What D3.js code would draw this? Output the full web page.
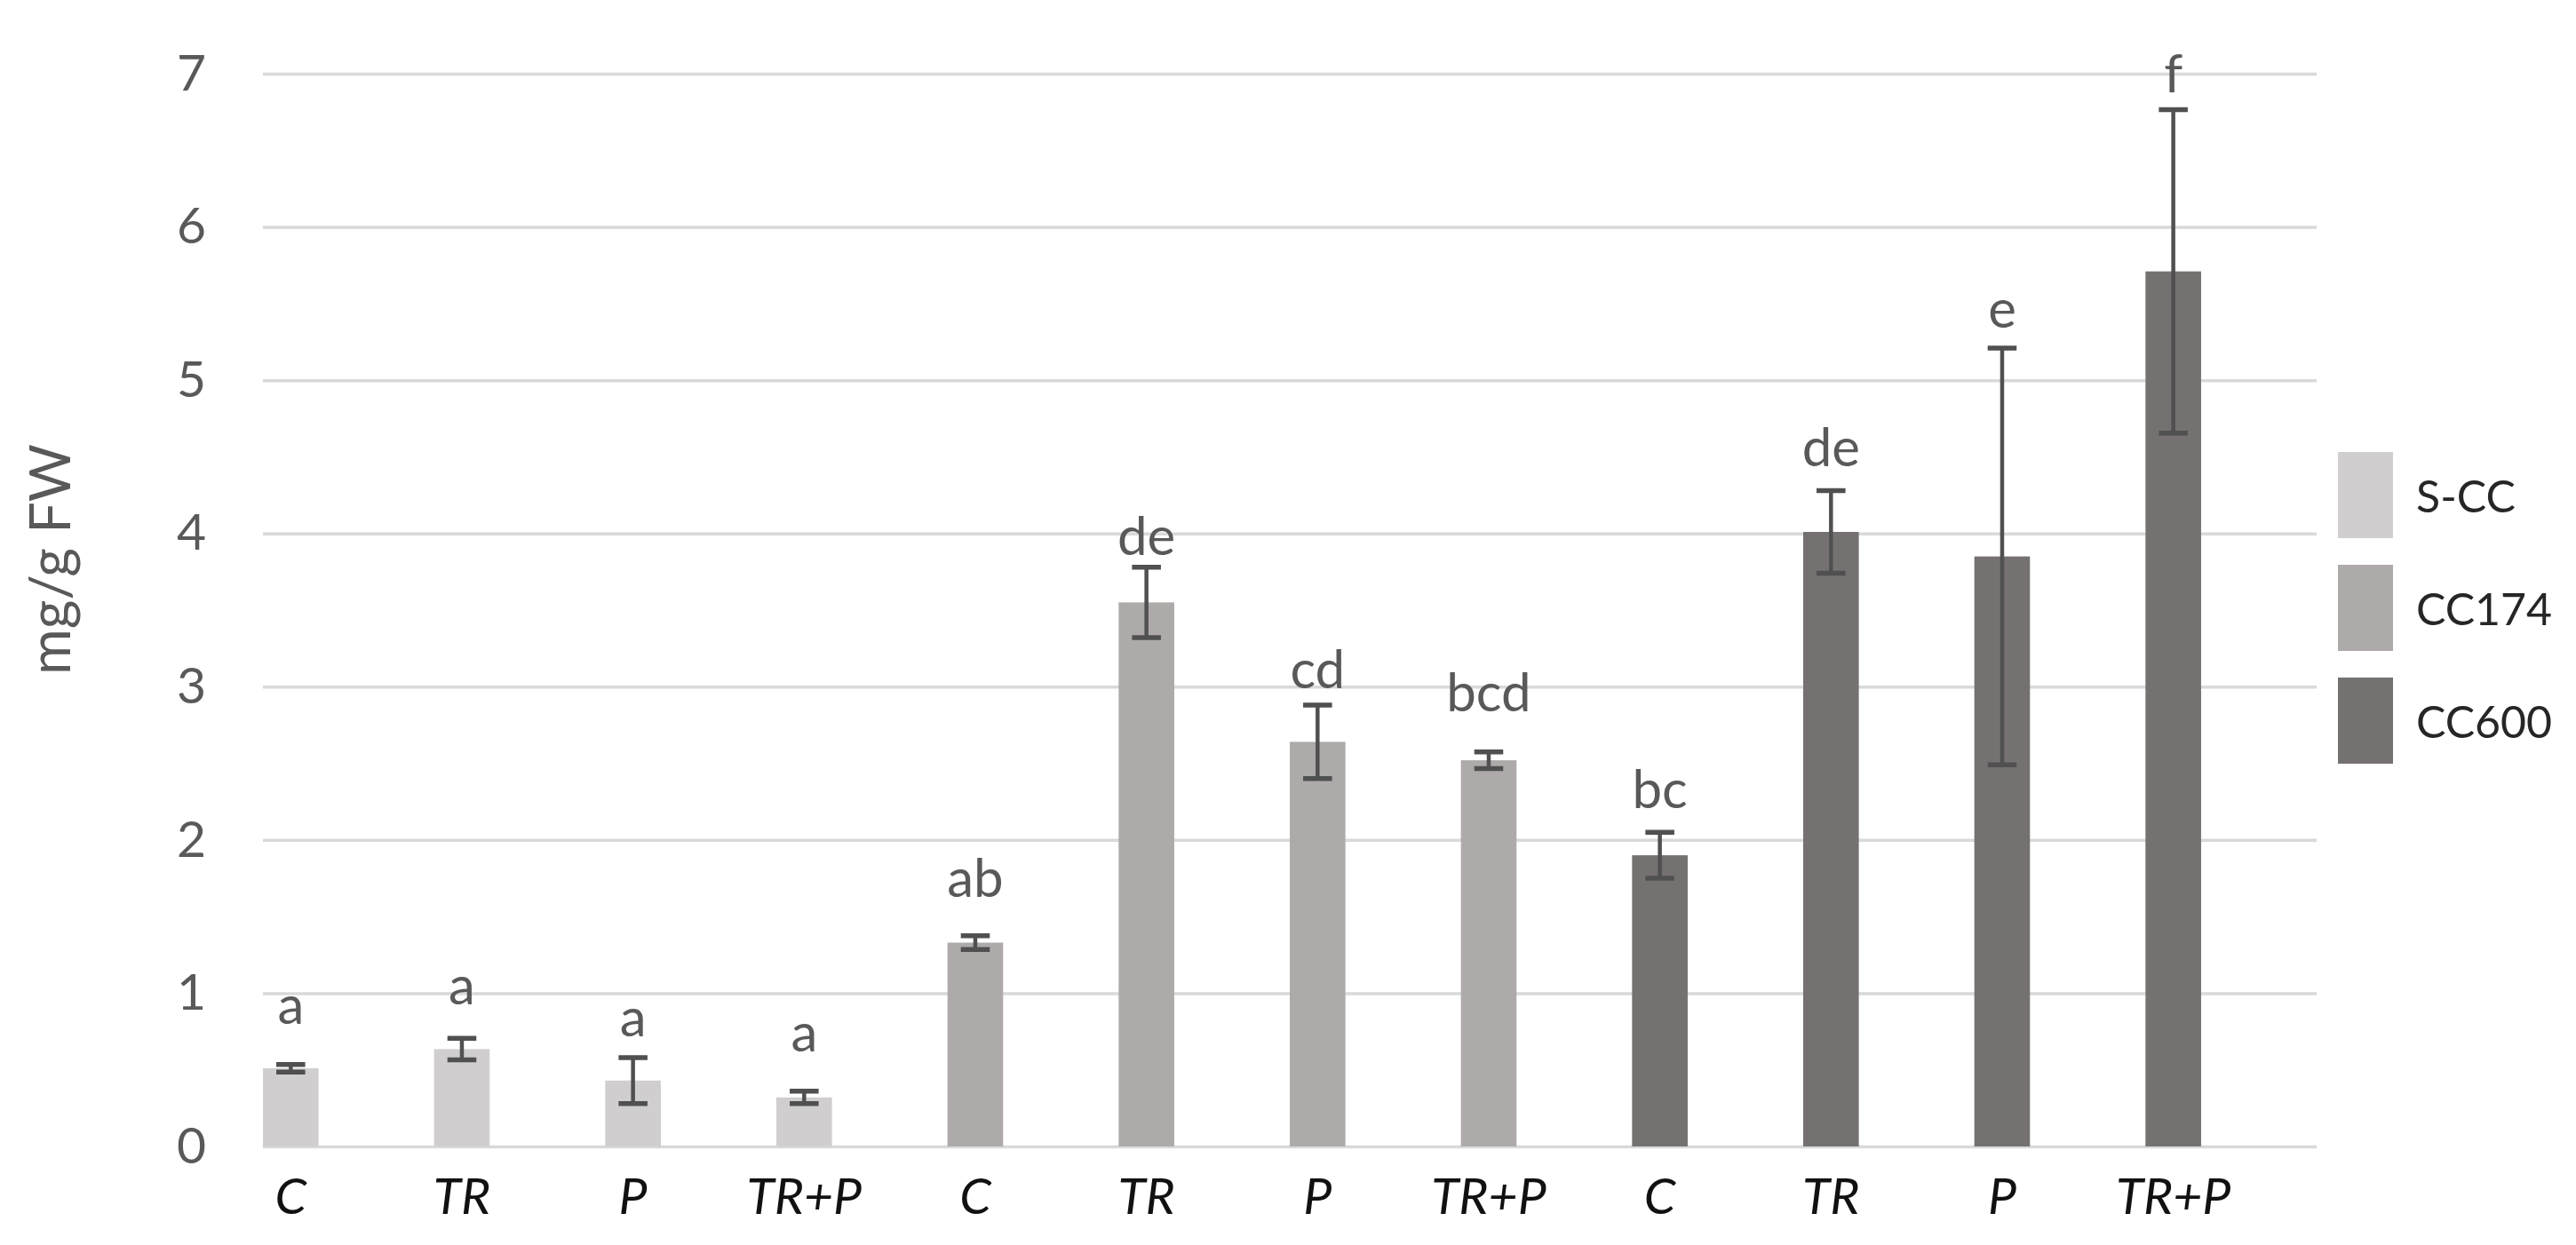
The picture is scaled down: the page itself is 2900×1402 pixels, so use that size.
<!DOCTYPE html>
<html>
<head>
<meta charset="utf-8">
<script src="https://cdn.jsdelivr.net/npm/d3@7"></script>
<style>
  html, body { margin: 0; padding: 0; background: #ffffff; }
  svg { display: block; }
  text { font-family: Lato, "Open Sans", "Noto Sans", sans-serif; }
</style>
</head>
<body>
<svg id="chart" width="2900" height="1402"></svg>
<script>
// ---- data ----
const categories = ["C", "TR", "P", "TR+P", "C", "TR", "P", "TR+P", "C", "TR", "P", "TR+P"];
const groups = ["S-CC", "S-CC", "S-CC", "S-CC", "CC174", "CC174", "CC174", "CC174", "CC600", "CC600", "CC600", "CC600"];
const values = [0.51, 0.635, 0.43, 0.32, 1.33, 3.55, 2.64, 2.52, 1.90, 4.01, 3.85, 5.71];
const errors = [0.025, 0.07, 0.15, 0.04, 0.045, 0.23, 0.24, 0.055, 0.15, 0.27, 1.36, 1.055];
const letters = ["a", "a", "a", "a", "ab", "de", "cd", "bcd", "bc", "de", "e", "f"];
const letterAt = [0.80, 0.93, 0.72, 0.62, 1.63, 3.86, 2.99, 2.84, 2.21, 4.44, 5.34, 6.88];
const seriesNames = ["S-CC", "CC174", "CC600"];
const seriesColors = ["#d0cece", "#aeaaaa", "#757171"];
const yTicks = [0, 1, 2, 3, 4, 5, 6, 7];
const yTitle = "mg/g FW";

(function () {
// ---- layout ----
const svg = d3.select("#chart");
const plotL = 296, plotR = 2608, plotT = 83, plotB = 1291;

const x = d3.scaleBand().domain(d3.range(categories.length)).range([plotL, plotR]).paddingInner(0).paddingOuter(0);
const y = d3.scaleLinear().domain([0, 7]).range([plotB, plotT]);
const color = d3.scaleOrdinal().domain(seriesNames).range(seriesColors);
const barW = x.bandwidth() * 0.325;

// gridlines + tick labels
const yAxis = d3.axisLeft(y).tickValues(yTicks).tickFormat(d3.format("d"))
  .tickSize(-(plotR - plotL)).tickPadding(64);
const gy = svg.append("g").attr("transform", `translate(${plotL},0)`).call(yAxis);
gy.select(".domain").remove();
gy.selectAll(".tick line").attr("stroke", "#d9d9d9").attr("stroke-width", 3.5);
gy.selectAll(".tick text").attr("fill", "#595959").attr("font-size", 57)
  .style("font-family", "Lato, 'Open Sans', sans-serif");

// bars
const idx = d3.range(values.length);
svg.append("g").selectAll("rect").data(idx).join("rect")
  .attr("x", i => x(i))
  .attr("y", i => y(values[i]))
  .attr("width", barW)
  .attr("height", i => y(0) - y(values[i]))
  .attr("fill", i => color(groups[i]));

// error bars
const eg = svg.append("g").attr("stroke", "#505050");
const capW = barW * 0.52;
idx.forEach(i => {
  const cx = x(i) + barW / 2;
  const hi = y(values[i] + errors[i]), lo = y(values[i] - errors[i]);
  eg.append("line").attr("x1", cx).attr("x2", cx).attr("y1", hi).attr("y2", lo).attr("stroke-width", 4.5);
  eg.append("line").attr("x1", cx - capW / 2).attr("x2", cx + capW / 2).attr("y1", hi).attr("y2", hi).attr("stroke-width", 5.5);
  eg.append("line").attr("x1", cx - capW / 2).attr("x2", cx + capW / 2).attr("y1", lo).attr("y2", lo).attr("stroke-width", 5.5);
});

// significance letters
svg.append("g").selectAll("text").data(idx).join("text")
  .attr("x", i => x(i) + barW / 2)
  .attr("y", i => y(letterAt[i]))
  .attr("text-anchor", "middle")
  .attr("fill", "#595959")
  .attr("font-size", 60)
  .text(i => letters[i]);

// x category labels
svg.append("g").selectAll("text").data(idx).join("text")
  .attr("x", i => x(i) + barW / 2)
  .attr("y", 1367)
  .attr("text-anchor", "middle")
  .attr("fill", "#111111")
  .attr("font-size", 57)
  .attr("font-style", "italic")
  .text(i => categories[i]);

// y title
svg.append("text")
  .attr("transform", `translate(79,630) rotate(-90)`)
  .attr("text-anchor", "middle")
  .attr("fill", "#595959")
  .attr("font-size", 63)
  .text(yTitle);

// legend
const lg = svg.append("g");
seriesNames.forEach((s, k) => {
  const yy = 509 + k * 127;
  lg.append("rect").attr("x", 2632).attr("y", yy).attr("width", 62).attr("height", 97).attr("fill", color(s));
  lg.append("text").attr("x", 2720).attr("y", yy + 48.5).attr("dominant-baseline", "central")
    .attr("fill", "#262626").attr("font-size", 50).text(s);
});
})();
</script>
</body>
</html>
